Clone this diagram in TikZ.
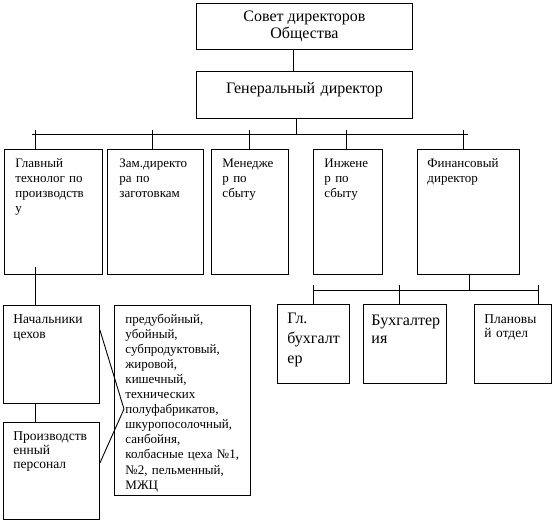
\documentclass[tikz,border=0pt]{standalone}
\usepackage{fontspec}
\setmainfont{Liberation Serif}
\usepackage{tikz}
\tikzset{
	box/.style = {
		rectangle,
		draw=black,
		line width=0.9pt,
		inner sep=0pt,
		anchor=north west
	},
	box_top/.style = {
		box,
		minimum width=216pt,
		align=center,
		font=\fontsize{16}{17}\selectfont
	},
	box_mid/.style = {
		box,
		minimum height=125pt
	},
	box_low/.style = {
		box,
		minimum height=79pt
	},
	box_text/.style = {
		anchor=base west,
		align=left,
		inner sep=0pt,
		text width=150pt,
		font=\fontsize{13}{15}\selectfont
	},
	box_text_big/.style = {
		box_text,
		font=\fontsize{16}{20}\selectfont
	},
}

\begin{document}
\begin{tikzpicture}[x=1pt, y=-1pt, line width=0.9pt]
\useasboundingbox (0,0) rectangle (555,523);

\node [box_top, minimum height=46pt] (sovet) at (196,3) {Совет директоров\\Общества};
\node [box_top, minimum height=47pt] (gd) at (196,71) {};
\node [box_text, anchor=base, align=center, font=\fontsize{16}{17}\selectfont, text width=200pt] (gd_t) at ([yshift=-22pt]gd.north) {Генеральный директор};

\node [box_mid, minimum width=98pt] (tech) at (4,149) {};
\node [box_mid, minimum width=96pt] (zam) at (107,149) {};
\node [box_mid, minimum width=77pt] (men) at (211,149) {};
\node [box_mid, minimum width=69pt] (inzh) at (313,149) {};
\node [box_mid, minimum width=102pt] (fin) at (417,149) {};

\node [box_text] (tech_t) at ([shift={(11,18)}]tech.north west) {Главный\\технолог по\\производств\\у};
\node [box_text] (zam_t) at ([shift={(12,18)}]zam.north west) {Зам.директо\\ра по\\заготовкам};
\node [box_text] (men_t) at ([shift={(11,18)}]men.north west) {Менедже\\р по\\сбыту};
\node [box_text] (inzh_t) at ([shift={(11,18)}]inzh.north west) {Инжене\\р по\\сбыту};
\node [box_text] (fin_t) at ([shift={(10,18)}]fin.north west) {Финансовый\\директор};

\node [box_low, minimum width=72pt] (glb) at (277,304) {};
\node [box_low, minimum width=83pt] (buh) at (363,304) {};
\node [box_low, minimum width=77pt] (plan) at (474,304) {};

\node [box_text_big] (glb_t) at ([shift={(10,19)}]glb.north west) {Гл.\\бухгалт\\ер};
\node [box_text_big, font=\fontsize{16}{18}\selectfont] (buh_t) at ([shift={(8,21)}]buh.north west) {Бухгалтер\\ия};
\node [box_text, font=\fontsize{13.5}{14}\selectfont] (plan_t) at ([shift={(10,19)}]plan.north west) {Плановы\\й отдел};

\node [box, minimum width=96pt, minimum height=98pt] (nach) at (3,305) {};
\node [box, minimum width=96pt, minimum height=97pt] (proizv) at (3,422) {};
\node [box, minimum width=136pt, minimum height=190pt] (shops) at (114,305) {};

\node [box_text, font=\fontsize{13.5}{15}\selectfont] (nach_t) at ([shift={(10,18)}]nach.north west) {Начальники\\цехов};
\node [box_text, font=\fontsize{13.5}{14}\selectfont] (proizv_t) at ([shift={(10,18)}]proizv.north west) {Производств\\енный\\персонал};
\node [box_text, font=\fontsize{13}{15.1}\selectfont] (shops_t) at ([shift={(11,18)}]shops.north west) {предубойный,\\убойный,\\субпродуктовый,\\жировой,\\кишечный,\\технических\\полуфабрикатов,\\шкуропосолочный,\\санбойня,\\колбасные цеха №1,\\№2, пельменный,\\МЖЦ};

\draw ([xshift=-11pt]sovet.south) -- ([xshift=-11pt]gd.north);
\draw ([xshift=-8pt]gd.south) -- ++(0,16);
\draw ([shift={(28,-15)}]tech.north west) -- ([shift={(51,-15)}]fin.north west);
\draw ([xshift=31pt]tech.north west) -- ++(0,-19);
\draw ([xshift=45pt]zam.north west) -- ++(0,-19);
\draw ([xshift=38pt]men.north west) -- ++(0,-19);
\draw ([xshift=33pt]inzh.north west) -- ++(0,-19);
\draw ([xshift=46pt]fin.north west) -- ++(0,-19);

\draw ([xshift=52pt]fin.south west) -- ++(0,16);
\draw ([shift={(36,-14)}]glb.north west) -- ([shift={(64,-14)}]plan.north west);
\draw ([xshift=36pt]glb.north west) -- ++(0,-19);
\draw ([xshift=36pt]buh.north west) -- ++(0,-19);
\draw ([xshift=64pt]plan.north west) -- ++(0,-19);

\draw ([shift={(31,-8)}]tech.south west) -- ([xshift=32pt]nach.north west);
\draw ([xshift=32pt]nach.south west) -- ([xshift=32pt]proizv.north west);
\coordinate (brk) at (124,409);
\draw ([yshift=-25pt]nach.north east) -- (brk) -- ([yshift=-41pt]proizv.north east);
\end{tikzpicture}
\end{document}
